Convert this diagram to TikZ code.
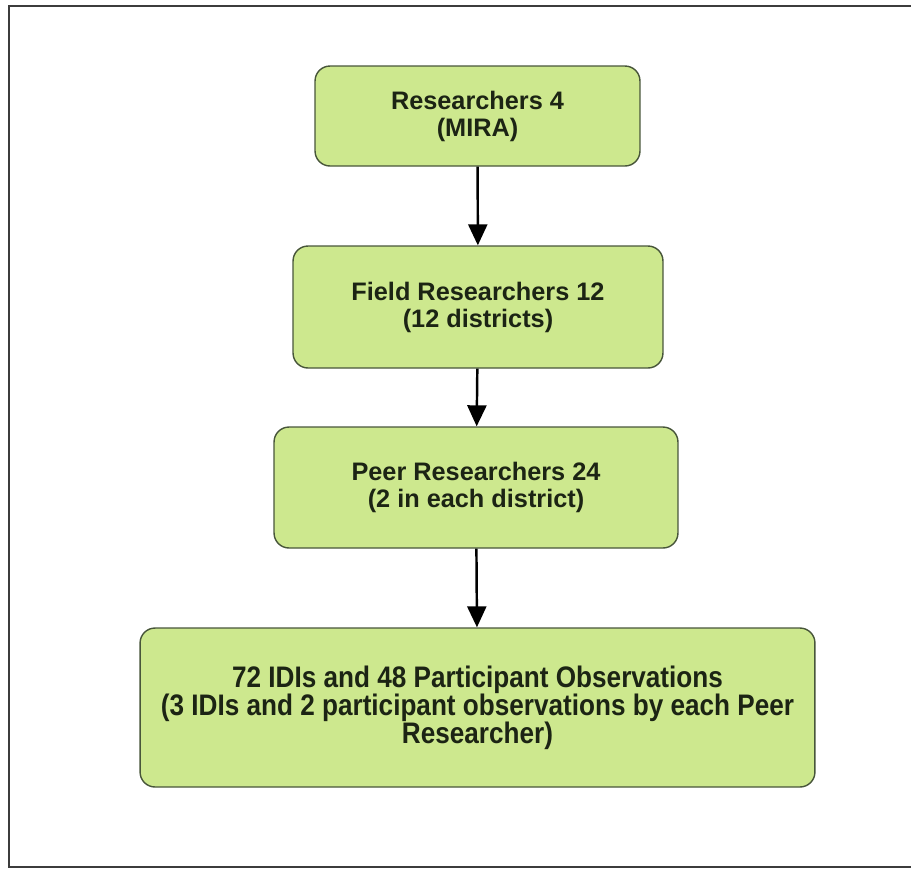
\documentclass[tikz,border=0pt]{standalone}
\usepackage{fontspec}
\setmainfont{Liberation Sans}
\newfontfamily\narrowfont[FakeStretch=0.88]{Liberation Sans}
\usetikzlibrary{arrows.meta,positioning,shapes}

\definecolor{boxfill}{RGB}{205,232,142}
\definecolor{boxline}{RGB}{72,86,58}
\definecolor{boxtext}{RGB}{28,36,20}
\definecolor{framegray}{RGB}{60,60,60}

\begin{document}
\begin{tikzpicture}[x=0.02cm,y=-0.02cm,>={Triangle[width=0.38cm,length=0.42cm]}]
	\tikzstyle{block} = [draw=boxline, fill=boxfill, line width=0.8pt, rectangle, rounded corners=0.3cm, align=center, text=boxtext, font=\fontsize{14.4}{15.4}\selectfont\bfseries]
	\tikzstyle{link} = [->, line width=1.4pt, black]

	\useasboundingbox (0,0) rectangle (911,870);
	\draw [framegray, line width=1.2pt] (911,6) -- (9,6) -- (9,867) -- (911,867);

	\node [block, minimum width=6.5cm, minimum height=2cm] (res) at (477.5,116) {Researchers 4\\(MIRA)};
	\node [block, minimum width=7.4cm, minimum height=2.44cm] (field) at (478,307) {Field Researchers 12\\(12 districts)};
	\node [block, minimum width=8.08cm, minimum height=2.42cm] (peer) at (476,487.5) {Peer Researchers 24\\(2 in each district)};
	\node [block, minimum width=13.5cm, minimum height=3.18cm, font=\narrowfont\fontsize{16.9}{16}\selectfont\bfseries] (idi) at (477.5,707.5) {72 IDIs and 48 Participant Observations\\(3 IDIs and 2 participant observations by each Peer\\Researcher)};

	\foreach \a/\b in {res/field, field/peer, peer/idi}
		\draw [link] (\a) -- (\b);
\end{tikzpicture}
\end{document}
